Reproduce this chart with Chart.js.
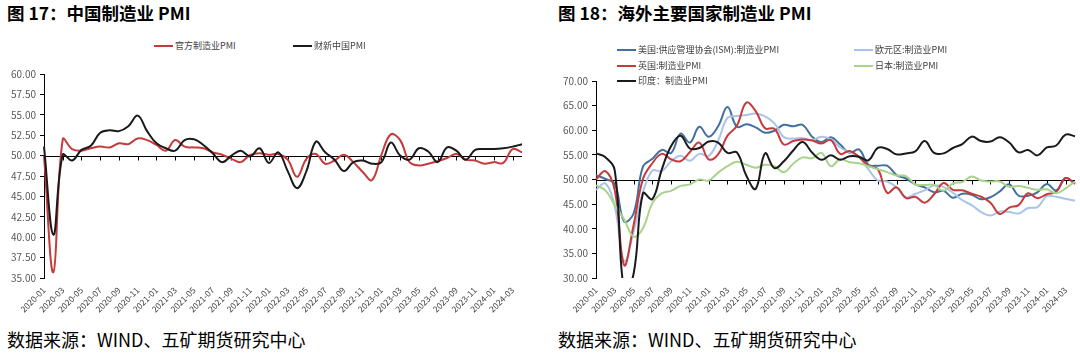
<!DOCTYPE html>
<html><head><meta charset="utf-8">
<script src="https://cdn.jsdelivr.net/npm/chart.js@4.4.1/dist/chart.umd.min.js"></script>
<style>
body{margin:0;width:1080px;height:356px;background:#fff;position:relative;overflow:hidden;font-family:"Noto Sans CJK SC","Noto Sans",sans-serif;}
.title{position:absolute;top:3px;font-size:17.5px;line-height:1.1;font-weight:bold;color:#000;white-space:nowrap;}
.src{position:absolute;top:330px;font-size:18px;line-height:1.1;color:#000;white-space:nowrap;}
.cv{position:absolute;}
.leg{position:absolute;font-size:9px;line-height:12px;color:#404040;white-space:nowrap;display:flex;align-items:center;}
.leg i{display:inline-block;width:19px;height:2px;margin-right:2px;}
</style></head>
<body>
<div class="title" style="left:7px;">图 17：中国制造业 PMI</div>
<div class="title" style="left:558px;">图 18：海外主要国家制造业 PMI</div>
<div class="src" style="left:7px;">数据来源：WIND、五矿期货研究中心</div>
<div class="src" style="left:558px;">数据来源：WIND、五矿期货研究中心</div>
<canvas id="c1" class="cv" style="left:0;top:60px;" width="540" height="260"></canvas>
<canvas id="c2" class="cv" style="left:540px;top:60px;" width="540" height="260"></canvas>
<div id="legs"></div>
<script>
const months = [
 "2020-01","2020-02","2020-03","2020-04","2020-05","2020-06","2020-07","2020-08","2020-09","2020-10","2020-11","2020-12",
 "2021-01","2021-02","2021-03","2021-04","2021-05","2021-06","2021-07","2021-08","2021-09","2021-10","2021-11","2021-12",
 "2022-01","2022-02","2022-03","2022-04","2022-05","2022-06","2022-07","2022-08","2022-09","2022-10","2022-11","2022-12",
 "2023-01","2023-02","2023-03","2023-04","2023-05","2023-06","2023-07","2023-08","2023-09","2023-10","2023-11","2023-12",
 "2024-01","2024-02","2024-03","2024-04"];

// 图17
const chinaOfficial = [50.0,35.7,52.0,50.8,50.6,50.9,51.1,51.0,51.5,51.4,52.1,51.9,
 51.3,50.6,51.9,51.1,51.0,50.9,50.4,50.1,49.6,49.2,50.1,50.3,
 50.1,50.2,49.5,47.4,49.6,50.2,49.0,49.4,50.1,49.2,48.0,47.0,
 50.1,52.6,51.9,49.2,48.8,49.0,49.3,49.7,50.2,49.5,49.4,49.0,
 49.2,49.1,50.8,50.4];
const chinaCaixin = [51.1,40.3,50.1,49.4,50.7,51.2,52.8,53.1,53.0,53.6,54.9,53.0,
 51.5,50.9,50.6,51.9,52.0,51.3,50.3,49.2,50.0,50.6,49.9,50.9,
 49.1,50.4,48.1,46.0,48.1,51.7,50.4,49.5,48.1,49.2,49.4,49.0,
 49.2,51.6,50.0,49.5,50.9,50.5,49.2,51.0,50.6,49.5,50.7,50.8,
 50.8,50.9,51.1,51.4];
const leftNames = ["官方制造业PMI","财新中国PMI"];
const leftYTicks = [35,37.5,40,42.5,45,47.5,50,52.5,55,57.5,60];

// 图18
const usISM = [50.9,50.1,49.1,41.5,43.1,52.6,54.2,56.0,55.4,59.3,57.5,60.7,
 58.7,60.8,64.7,60.7,61.2,60.6,59.5,59.9,61.1,60.8,61.1,58.7,
 57.6,58.6,57.1,55.4,56.1,53.0,52.8,52.8,50.9,50.2,49.0,48.4,
 47.4,47.7,46.3,47.1,46.9,46.0,46.4,47.6,49.0,46.7,46.7,47.4,
 49.1,47.8,50.3,49.2];
const euroArea = [47.9,49.2,44.5,33.4,39.4,47.4,51.8,51.7,53.7,54.8,53.8,55.2,
 54.8,57.9,62.5,62.9,63.1,63.4,62.8,61.4,58.6,58.3,58.4,58.0,
 58.7,58.2,56.5,55.5,54.6,52.1,49.8,49.6,48.4,46.4,47.1,47.8,
 48.8,48.5,47.3,45.8,44.8,43.4,42.7,43.5,43.4,43.1,44.2,44.4,
 46.6,46.5,46.1,45.7];
const ukPMI = [50.0,51.7,47.8,32.6,40.7,50.1,53.3,55.2,54.1,53.7,55.6,57.5,
 54.1,55.1,58.9,60.9,65.6,63.9,60.4,60.3,57.1,57.8,58.1,57.9,
 57.3,58.0,55.2,55.8,54.6,52.8,52.1,47.3,48.4,46.2,46.5,45.3,
 47.0,49.3,47.9,47.8,47.1,46.5,45.3,43.0,44.3,44.8,47.2,46.2,
 47.0,47.5,50.3,49.1];
const japanPMI = [48.8,47.8,44.8,41.9,38.4,40.1,45.2,47.2,47.7,48.7,49.0,50.0,
 49.8,51.4,52.7,53.6,53.0,52.4,53.0,52.7,51.5,53.2,54.5,54.3,
 55.4,52.7,54.1,53.5,53.3,52.7,52.1,51.5,50.8,50.7,49.0,48.9,
 48.9,47.7,49.2,49.5,50.6,49.8,49.6,49.6,48.5,48.7,48.3,47.9,
 48.0,47.2,48.2,49.6];
const indiaPMI = [55.3,54.5,51.8,27.4,30.8,47.2,46.0,52.0,56.8,58.9,56.3,56.4,
 57.7,57.5,55.4,55.5,50.8,48.1,55.3,52.3,53.7,55.9,57.6,55.5,
 54.0,54.9,54.0,54.7,54.6,53.9,56.4,56.2,55.1,55.3,55.7,57.8,
 55.4,55.3,56.4,57.2,58.7,57.8,57.7,58.6,57.5,55.5,56.0,54.9,
 56.5,56.9,59.1,58.8];
const rightNames = ["美国:供应管理协会(ISM):制造业PMI","欧元区:制造业PMI","英国:制造业PMI","日本:制造业PMI","印度：制造业PMI"];
const rightYTicks = [30,35,40,45,50,55,60,65,70];

const FONT = '"Noto Sans CJK SC","Noto Sans",sans-serif';

const axisAt50 = {
  id:'axisAt50',
  beforeDatasetsDraw(chart, args, opts){
    const {ctx, chartArea, scales:{x, y}} = chart;
    const yp = Math.round(y.getPixelForValue(opts.value)) + 0.5;
    ctx.save();
    ctx.strokeStyle = '#000'; ctx.lineWidth = 1;
    ctx.beginPath();
    ctx.moveTo(chartArea.left, yp); ctx.lineTo(chartArea.right, yp);
    for (let i = 0; i < chart.data.labels.length; i += 2) {
      const xp = Math.round(x.getPixelForValue(i)) + 0.5;
      ctx.moveTo(xp, yp); ctx.lineTo(xp, yp + 4);
    }
    ctx.stroke();
    ctx.restore();
  }
};

function makeChart(id, series, names, colors, yTicks, yWidth, pad, xHeight) {
  const n = series.length;
  const cfg = {
    type: 'line',
    data: {
      labels: months,
      datasets: series.map((s, i) => ({
        label: names[i], data: s, borderColor: colors[i], backgroundColor: colors[i],
        borderWidth: 2, pointRadius: 0, tension: 0.4, fill: false, order: n - i
      }))
    },
    options: {
      responsive: false, animation: false, devicePixelRatio: 1,
      layout: { padding: pad },
      plugins: { legend: { display: false }, tooltip: { enabled: false }, axisAt50: { value: 50 } },
      scales: {
        x: {
          type: 'category', offset: false,
          grid: { display: false, drawTicks: false }, border: { display: false },
          ticks: {
            autoSkip: false, maxRotation: 45, minRotation: 45, padding: 7,
            font: { size: 8.5, family: FONT }, color: '#404040',
            callback: (v, i) => (i % 2 === 0 ? months[i] : null)
          },
          afterFit: s => { s.height = xHeight; }
        },
        y: {
          min: yTicks[0], max: yTicks[yTicks.length - 1],
          afterBuildTicks: s => { s.ticks = yTicks.map(v => ({ value: v })); },
          ticks: { callback: v => Number(v).toFixed(2), font: { size: 10, family: FONT }, color: '#595959', padding: 4 },
          grid: { drawOnChartArea: false, drawTicks: true, tickLength: 4, color: '#000' },
          border: { display: true, color: '#000', width: 1 },
          afterFit: s => { s.width = yWidth; }
        }
      }
    },
    plugins: [axisAt50]
  };
  return new Chart(document.getElementById(id), cfg);
}

const leftColors = ['#c63a3c', '#1a1a1a'];
const rightColors = ['#44709d', '#a9c4e9', '#c63a3c', '#a8d38c', '#1a1a1a'];

makeChart('c1', [chinaOfficial, chinaCaixin], leftNames, leftColors, leftYTicks, 44, { top: 14, right: 18, left: 0, bottom: 0 }, 42);
makeChart('c2', [usISM, euroArea, ukPMI, japanPMI, indiaPMI], rightNames, rightColors, rightYTicks, 56, { top: 21, right: 5, left: 0, bottom: 0 }, 42);

// HTML legends
const legPos = [
  { name: leftNames[0], color: leftColors[0], x: 154, y: 40 },
  { name: leftNames[1], color: leftColors[1], x: 293, y: 40 },
  { name: rightNames[0], color: rightColors[0], x: 617, y: 44 },
  { name: rightNames[1], color: rightColors[1], x: 854, y: 44 },
  { name: rightNames[2], color: rightColors[2], x: 617, y: 60 },
  { name: rightNames[3], color: rightColors[3], x: 854, y: 60 },
  { name: rightNames[4], color: rightColors[4], x: 617, y: 75 }
];
const legs = document.getElementById('legs');
legPos.forEach(l => {
  const d = document.createElement('div');
  d.className = 'leg';
  d.style.left = l.x + 'px'; d.style.top = l.y + 'px';
  const i = document.createElement('i'); i.style.background = l.color;
  d.appendChild(i);
  d.appendChild(document.createTextNode(l.name));
  legs.appendChild(d);
});
</script>
</body></html>
